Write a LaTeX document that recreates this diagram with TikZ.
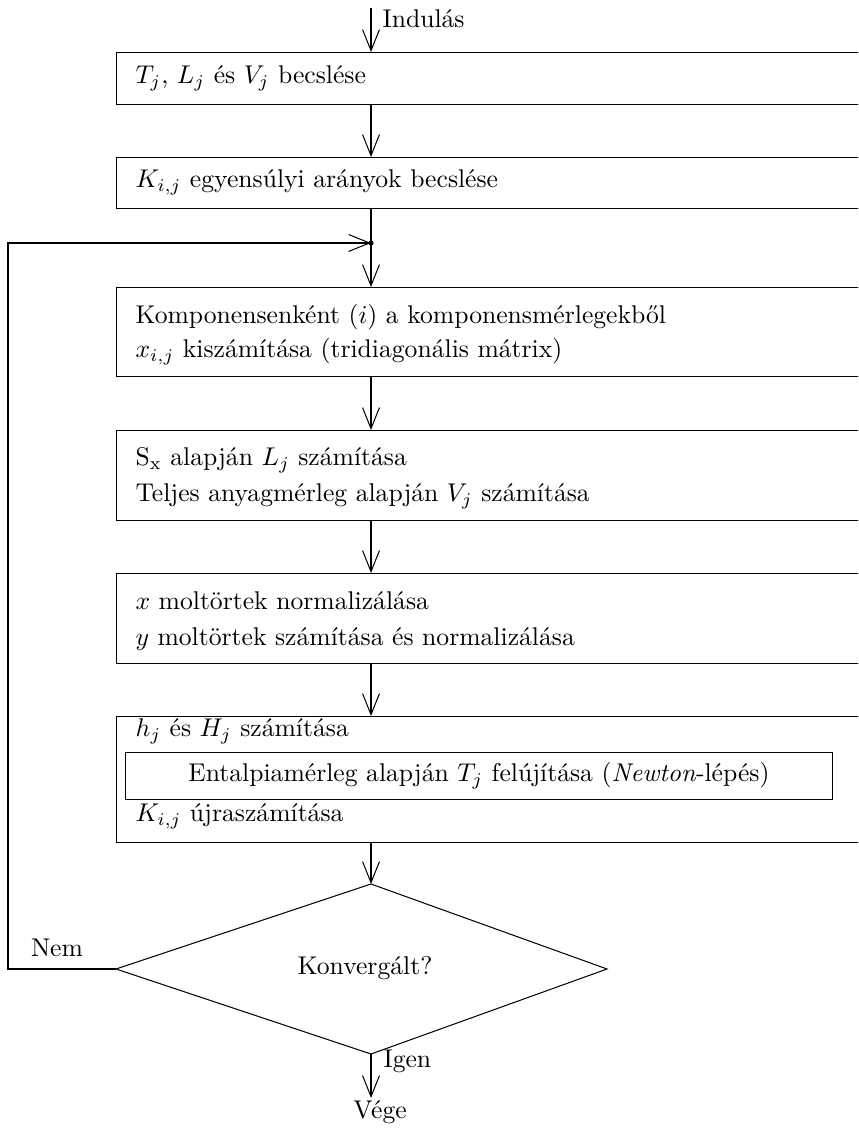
\documentclass[tikz,border=0pt]{standalone}
\usepackage{fontspec}
\usetikzlibrary{arrows.meta}
\tikzset{
  flow/.style={-{Straight Barb[length=8.2pt,width=6.6pt]}},
  stagebox/.style={draw,anchor=north west,minimum width=300pt,inner sep=0pt},
  textline/.style={anchor=mid west,inner sep=0pt},
}

\begin{document}
\begin{tikzpicture}[x=0.39pt,y=-0.39pt,line width=0.4pt,font=\fontsize{10}{12}\selectfont]
  \useasboundingbox (0,0) rectangle (858,1129);
  \clip (0,0) rectangle (858,1129);
  \coordinate (axis) at (371,0);

  % start
  \coordinate (start) at (371,8);
  \node[textline] (startlabel) at (382,22) {Indulás};

  % stages
  \node[stagebox,minimum height=20.3pt] (guess) at (116,52) {};
  \node[textline] (guesstext) at (135,78) {$T_j$, $L_j$ és $V_j$ becslése};

  \node[stagebox,minimum height=20pt] (kguess) at (116,157) {};
  \node[textline] (kguesstext) at (135,182) {$K_{i,j}$ egyensúlyi arányok becslése};

  \coordinate (junction) at (371,243);

  \node[stagebox,minimum height=34.7pt] (comp) at (116,287) {};
  \node[textline] (comptexta) at (135,318) {Komponensenként ($i$) a komponensmérlegekből};
  \node[textline] (comptextb) at (135,352) {$x_{i,j}$ kiszámítása (tridiagonális mátrix)};

  \node[stagebox,minimum height=35.1pt] (flows) at (116,430) {};
  \node[textline] (flowstexta) at (135,460) {$\mathrm{S_x}$ alapján $L_j$ számítása};
  \node[textline] (flowstextb) at (135,496) {Teljes anyagmérleg alapján $V_j$ számítása};

  \node[stagebox,minimum height=35.1pt] (norm) at (116,573) {};
  \node[textline] (normtexta) at (135,604) {$x$ moltörtek normalizálása};
  \node[textline] (normtextb) at (135,640) {$y$ moltörtek számítása és normalizálása};

  \node[stagebox,minimum height=49.1pt] (enth) at (116,716) {};
  \node[textline] (enthtexta) at (135,731) {$h_j$ és $H_j$ számítása};
  \node[draw,anchor=north west,minimum width=275.7pt,minimum height=18.3pt,inner sep=0pt] (newton) at (125,752)
    {Entalpiamérleg alapján $T_j$ felújítása (\textit{Newton}-lépés)};
  \node[textline] (enthtextb) at (135,816) {$K_{i,j}$ újraszámítása};

  % decision
  \coordinate (dtop) at (371,884);
  \coordinate (dright) at (607,969);
  \coordinate (dbottom) at (371,1054);
  \coordinate (dleft) at (116,969);
  \draw (dtop) -- (dright) -- (dbottom) -- (dleft) -- cycle;
  \node[anchor=mid] (test) at (365,969) {Konvergált?};
  \node[anchor=mid] (nolabel) at (57,951) {Nem};
  \node[textline] (yeslabel) at (383,1062) {Igen};
  \coordinate (stop) at (371,1098);
  \node[anchor=mid] (stoplabel) at (380,1113) {Vége};

  % connectors
  \draw[flow] (start) -- (axis |- guess.north);
  \draw[flow] (axis |- guess.south) -- (axis |- kguess.north);
  \draw[flow] (axis |- kguess.south) -- (axis |- comp.north);
  \draw[flow] (axis |- comp.south) -- (axis |- flows.north);
  \draw[flow] (axis |- flows.south) -- (axis |- norm.north);
  \draw[flow] (axis |- norm.south) -- (axis |- enth.north);
  \draw[flow] (axis |- enth.south) -- (dtop);
  \draw[flow] (dbottom) -- (stop);
  \coordinate (back) at (8,243);
  \draw[flow] (dleft) -| (back) -- (junction);
  \fill (junction) circle[radius=1pt];
\end{tikzpicture}
\end{document}
